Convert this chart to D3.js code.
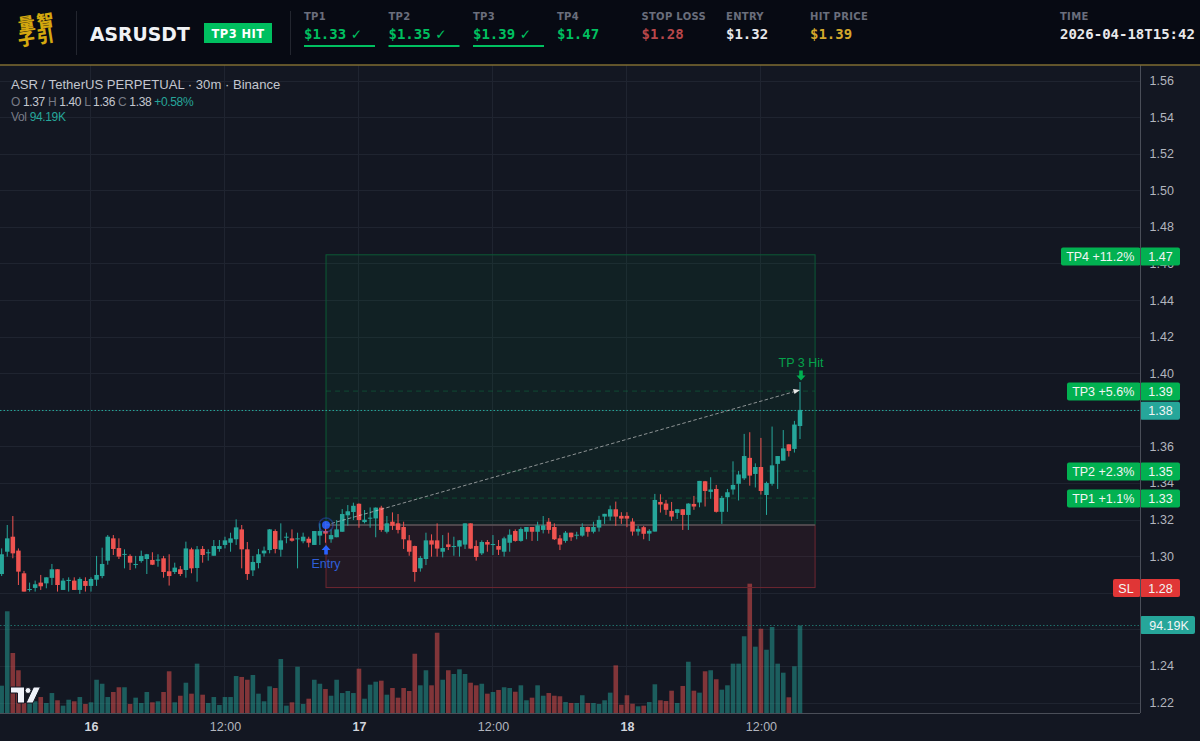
<!DOCTYPE html>
<html><head><meta charset="utf-8">
<style>html,body{margin:0;padding:0;background:#131722;overflow:hidden}svg{display:block}</style>
<script src="https://cdn.jsdelivr.net/npm/d3@7"></script>
</head><body><svg id="c" width="1200" height="741"></svg>
<script>
const opens=[
1.2905,1.3027,1.3109,1.3033,1.2909,1.2820,1.2829,1.2858,1.2854,1.2884,
1.2931,1.2818,1.2867,1.2869,1.2818,1.2867,1.2840,1.2874,1.2894,1.2978,
1.3100,1.3047,1.3011,1.3004,1.2956,1.2976,1.2987,1.2982,1.2978,1.2991,
1.2920,1.2916,1.2931,1.2927,1.3040,1.2938,1.3042,1.3020,1.3005,1.3042,
1.3064,1.3076,1.3095,1.3149,1.3040,1.2925,1.2965,1.3018,1.3036,1.3140,
1.3038,1.3106,1.3100,1.3096,1.3084,1.3098,1.3064,1.3115,1.3140,1.3095,
1.3106,1.3136,1.3226,1.3244,1.3289,1.3189,1.3209,1.3209,1.3268,1.3136,
1.3191,1.3182,1.3162,1.3089,1.3058,1.2936,1.2987,1.3089,1.3089,1.3027,
1.3067,1.3055,1.3055,1.3066,1.3182,1.3058,1.3018,1.3080,1.3066,1.3058,
1.3027,1.3076,1.3140,1.3086,1.3136,1.3162,1.3136,1.3146,1.3191,1.3162,
1.3100,1.3086,1.3131,1.3115,1.3115,1.3162,1.3136,1.3159,1.3219,1.3219,
1.3259,1.3223,1.3223,1.3192,1.3137,1.3161,1.3126,1.3137,1.3299,1.3290,
1.3250,1.3239,1.3259,1.3228,1.3288,1.3296,1.3412,1.3354,1.3370,1.3245,
1.3325,1.3367,1.3398,1.3428,1.3540,1.3452,1.3490,1.3337,1.3398,1.3507,
1.3525,1.3614,1.3589,1.3714];
const highs=[
1.3045,1.3173,1.3222,1.3045,1.2922,1.2858,1.2869,1.2900,1.2887,1.2960,
1.2931,1.2882,1.2887,1.2887,1.2887,1.2887,1.2887,1.3004,1.3049,1.3118,
1.3118,1.3100,1.3040,1.3013,1.3004,1.3033,1.3015,1.3024,1.3013,1.3004,
1.3013,1.2967,1.2949,1.3082,1.3049,1.3058,1.3058,1.3040,1.3091,1.3091,
1.3109,1.3131,1.3204,1.3173,1.3080,1.3004,1.3042,1.3055,1.3151,1.3149,
1.3182,1.3131,1.3149,1.3131,1.3131,1.3109,1.3140,1.3182,1.3191,1.3149,
1.3200,1.3260,1.3282,1.3295,1.3291,1.3255,1.3269,1.3269,1.3278,1.3222,
1.3242,1.3233,1.3191,1.3118,1.3060,1.3004,1.3131,1.3122,1.3182,1.3118,
1.3131,1.3109,1.3091,1.3182,1.3182,1.3089,1.3089,1.3091,1.3118,1.3091,
1.3109,1.3149,1.3149,1.3160,1.3162,1.3162,1.3191,1.3222,1.3211,1.3182,
1.3118,1.3140,1.3131,1.3136,1.3182,1.3164,1.3191,1.3223,1.3234,1.3279,
1.3301,1.3243,1.3243,1.3210,1.3168,1.3168,1.3150,1.3343,1.3341,1.3310,
1.3299,1.3259,1.3259,1.3292,1.3332,1.3414,1.3414,1.3434,1.3392,1.3332,
1.3370,1.3521,1.3469,1.3671,1.3680,1.3510,1.3649,1.3410,1.3711,1.3550,
1.3692,1.3614,1.3742,1.3955];
const lows=[
1.2894,1.3000,1.2991,1.2845,1.2809,1.2809,1.2809,1.2818,1.2827,1.2845,
1.2809,1.2818,1.2809,1.2818,1.2796,1.2809,1.2809,1.2840,1.2882,1.2956,
1.3009,1.2987,1.2936,1.2927,1.2936,1.2967,1.2905,1.2954,1.2945,1.2885,
1.2842,1.2905,1.2894,1.2885,1.2909,1.2863,1.2967,1.2978,1.3005,1.3027,
1.3045,1.3027,1.3064,1.2936,1.2873,1.2894,1.2936,1.3000,1.3018,1.3018,
1.3000,1.3073,1.3082,1.2936,1.3073,1.3051,1.3064,1.3064,1.3076,1.3076,
1.3106,1.3136,1.3169,1.3200,1.3158,1.3182,1.3158,1.3106,1.3136,1.3127,
1.3146,1.3127,1.3042,1.3005,1.2863,1.2918,1.2954,1.3000,1.3000,1.2996,
1.3036,1.3005,1.3000,1.3042,1.3042,1.2978,1.3009,1.3027,1.3009,1.3009,
1.3000,1.3027,1.3082,1.3082,1.3095,1.3086,1.3086,1.3127,1.3126,1.3091,
1.3036,1.3076,1.3086,1.3095,1.3109,1.3109,1.3127,1.3137,1.3179,1.3197,
1.3168,1.3179,1.3161,1.3115,1.3115,1.3095,1.3086,1.3137,1.3241,1.3228,
1.3197,1.3206,1.3146,1.3146,1.3256,1.3270,1.3274,1.3316,1.3241,1.3179,
1.3245,1.3339,1.3307,1.3419,1.3388,1.3378,1.3339,1.3228,1.3388,1.3370,
1.3525,1.3547,1.3569,1.3643];
const closes=[
1.3013,1.3100,1.3018,1.2918,1.2809,1.2823,1.2849,1.2838,1.2887,1.2931,
1.2845,1.2869,1.2873,1.2818,1.2878,1.2840,1.2878,1.2900,1.2960,1.3109,
1.3042,1.3000,1.3015,1.2967,1.2960,1.3004,1.3013,1.2956,1.2984,1.2916,
1.2894,1.2940,1.2905,1.3045,1.2936,1.3040,1.3009,1.3024,1.3058,1.3058,
1.3089,1.3100,1.3160,1.3040,1.2905,1.2971,1.3013,1.3033,1.3149,1.3042,
1.3089,1.3109,1.3087,1.3100,1.3109,1.3076,1.3140,1.3140,1.3126,1.3118,
1.3149,1.3233,1.3248,1.3278,1.3200,1.3202,1.3213,1.3268,1.3146,1.3182,
1.3169,1.3146,1.3095,1.3027,1.2916,1.2993,1.3089,1.3066,1.3044,1.3047,
1.3053,1.3058,1.3089,1.3182,1.3044,1.2998,1.3080,1.3066,1.3069,1.3038,
1.3100,1.3120,1.3086,1.3151,1.3162,1.3136,1.3171,1.3171,1.3146,1.3095,
1.3066,1.3131,1.3106,1.3120,1.3162,1.3136,1.3162,1.3201,1.3234,1.3259,
1.3219,1.3208,1.3208,1.3137,1.3152,1.3125,1.3141,1.3310,1.3285,1.3256,
1.3219,1.3259,1.3228,1.3290,1.3274,1.3414,1.3359,1.3367,1.3245,1.3321,
1.3352,1.3392,1.3449,1.3550,1.3443,1.3490,1.3359,1.3403,1.3499,1.3550,
1.3592,1.3578,1.3722,1.3802];
const volumes=[
29.4,109.5,64.6,46.0,10.8,12.6,12.6,17.2,10.8,21.5,
13.7,7.9,14.3,12.6,17.2,9.7,11.5,35.8,31.5,17.2,
22.6,27.7,27.7,9.7,16.5,10.8,22.6,11.5,12.6,22.6,
44.9,11.5,18.6,32.6,20.8,53.1,19.7,10.8,17.2,8.6,
17.2,17.2,39.8,38.8,35.8,40.9,20.8,12.6,28.7,26.9,
58.1,7.9,11.5,49.8,9.7,15.4,35.8,31.5,25.8,18.6,
35.8,21.5,23.7,21.5,47.7,15.4,30.5,33.7,34.8,19.7,
26.9,16.5,26.9,23.7,63.8,29.8,46.0,29.8,86.4,35.8,
46.0,42.0,47.0,42.0,32.6,29.8,31.5,20.8,22.6,24.8,
27.7,26.9,22.9,29.8,13.7,16.5,29.8,18.6,21.5,18.6,
18.0,11.8,10.8,10.8,19.1,10.8,10.8,9.7,13.7,21.9,
51.3,8.9,19.1,10.0,7.2,7.9,11.8,30.9,13.7,12.9,
24.0,10.8,29.1,55.2,24.0,21.9,44.9,46.0,36.3,25.1,
29.8,53.1,53.1,82.6,139.2,71.4,90.7,68.1,92.6,53.1,
43.4,16.9,50.3,94.19];

const priceTicks=[1.56,1.54,1.52,1.50,1.48,1.46,1.44,1.42,1.40,1.38,1.36,1.34,1.32,1.30,1.28,1.26,1.24,1.22];
const timeTickBars=[16,40,64,88,112,136];
const timeTickLabels=["16","12:00","17","12:00","18","12:00"];
const boldTimeLabels=["16","17","18"];

const headerLabels=["TP1","TP2","TP3","TP4","STOP LOSS","ENTRY","HIT PRICE","TIME"];
const headerValues=["$1.33","$1.35","$1.39","$1.47","$1.28","$1.32","$1.39","2026-04-18T15:42"];
const headerColors=["#00c060","#00c060","#00c060","#00c060","#b8474a","#e8e8ea","#d4a72c","#e8e8ea"];
const headerHit=[true,true,true,false,false,false,false,false];
const headerX=[304,388.5,473,557,641.5,726,810,1060];

const entryPrice=1.3173, stopPrice=1.2831, tp4Price=1.4650;
const tpLinePrices=[1.3320,1.3468,1.3905];
const lastPrice=1.3799, lastVolume=94.19, hitPrice=1.3955;
const boxStartBar=58.1, boxEndBar=145.7, lastBar=143;
const tagLabels=["TP4 +11.2%","TP3 +5.6%","TP2 +2.3%","TP1 +1.1%"];
const tagValues=["1.47","1.39","1.35","1.33"];
const tagPrices=[1.4643,1.3905,1.3468,1.3320];

const W=1200,H=741,headerH=65,axisX=1140,axisY=713;
const x=d3.scaleLinear().domain([0,143]).range([1.67,800.0]);
const y=d3.scaleLinear().domain([1.22,1.56]).range([703,81]);
const yv=d3.scaleLinear().domain([0,lastVolume]).range([axisY,625.5]);
const SANS='"Liberation Sans",Arial,sans-serif', DJ='"DejaVu Sans",sans-serif', MONO='"DejaVu Sans Mono",monospace';
const UP='#26a69a',DOWN='#ef5350',GREEN='#02b151';
const svg=d3.select('#c');
const bars=d3.range(opens.length);

svg.append('rect').attr('width',W).attr('height',H).attr('fill','#131722');

// grid
const grid=svg.append('g').attr('stroke','#1f2430').attr('stroke-width',1).attr('shape-rendering','crispEdges');
grid.selectAll('.h').data(priceTicks).join('line').attr('x1',0).attr('x2',axisX).attr('y1',d=>y(d)).attr('y2',d=>y(d));
grid.selectAll('.v').data(timeTickBars).join('line').attr('y1',headerH).attr('y2',axisY).attr('x1',d=>x(d)).attr('x2',d=>x(d));

// volume
svg.append('g').selectAll('rect').data(bars).join('rect')
 .attr('x',i=>x(i)-2.3).attr('width',4.6)
 .attr('y',i=>yv(volumes[i])).attr('height',i=>axisY-yv(volumes[i]))
 .attr('fill',i=>closes[i]>=opens[i]?UP:DOWN).attr('fill-opacity',0.5);

// risk / reward boxes
const bx=x(boxStartBar),bw=x(boxEndBar)-x(boxStartBar);
svg.append('rect').attr('x',bx).attr('y',y(tp4Price)).attr('width',bw).attr('height',y(entryPrice)-y(tp4Price))
 .attr('fill','#00b050').attr('fill-opacity',0.065).attr('stroke','#0c5a36').attr('stroke-width',1);
svg.append('rect').attr('x',bx).attr('y',y(entryPrice)).attr('width',bw).attr('height',y(stopPrice)-y(entryPrice))
 .attr('fill','#f23645').attr('fill-opacity',0.07).attr('stroke','#6f2731').attr('stroke-width',1);
svg.selectAll('.tpl').data(tpLinePrices).join('line').attr('x1',bx).attr('x2',bx+bw)
 .attr('y1',d=>y(d)).attr('y2',d=>y(d)).attr('stroke','#0f7a45').attr('stroke-opacity',.45).attr('stroke-dasharray','5 4');
svg.append('line').attr('x1',bx).attr('x2',bx+bw).attr('y1',y(entryPrice)).attr('y2',y(entryPrice)).attr('stroke','#5a5f6b').attr('stroke-width',1.2);

// candles
const cg=svg.append('g');
cg.selectAll('.w').data(bars).join('line')
 .attr('x1',i=>x(i)).attr('x2',i=>x(i)).attr('y1',i=>y(highs[i])).attr('y2',i=>y(lows[i]))
 .attr('stroke',i=>closes[i]>=opens[i]?UP:DOWN).attr('stroke-width',1);
cg.selectAll('.b').data(bars).join('rect')
 .attr('x',i=>x(i)-2.25).attr('width',4.5)
 .attr('y',i=>y(Math.max(opens[i],closes[i])))
 .attr('height',i=>Math.max(1,Math.abs(y(opens[i])-y(closes[i]))))
 .attr('fill',i=>closes[i]>=opens[i]?UP:DOWN);

// last price & volume lines
svg.append('line').attr('x1',0).attr('x2',axisX).attr('y1',y(lastPrice)).attr('y2',y(lastPrice))
 .attr('stroke',UP).attr('stroke-dasharray','1.5 2').attr('stroke-width',1);
svg.append('line').attr('x1',0).attr('x2',axisX).attr('y1',yv(lastVolume)).attr('y2',yv(lastVolume))
 .attr('stroke','#1f6f69').attr('stroke-dasharray','1.5 2').attr('stroke-width',1);

// trade path
const ex=x(boxStartBar),ey=y(entryPrice),hx=x(lastBar),hy=y(hitPrice)+8;
svg.append('line').attr('x1',ex).attr('y1',ey).attr('x2',hx-5).attr('y2',hy+1.5)
 .attr('stroke','#d8d8d8').attr('stroke-opacity',.62).attr('stroke-width',1).attr('stroke-dasharray','3.5 2.2');
svg.append('path').attr('d',`M${hx},${hy} L${hx-7},${hy-1} L${hx-5.5},${hy+4} Z`).attr('fill','#e8e8e8');

// entry marker
svg.append('circle').attr('cx',ex).attr('cy',ey).attr('r',7).attr('fill','none').attr('stroke','#2962ff').attr('stroke-opacity',.35).attr('stroke-width',1.5);
svg.append('circle').attr('cx',ex).attr('cy',ey).attr('r',4).attr('fill','#2962ff').attr('fill-opacity',.9);
const ay=ey+20;
svg.append('path').attr('d',`M${ex},${ay} l4.5,5 h-2.7 v4.5 h-3.6 v-4.5 h-2.7 Z`).attr('fill','#2962ff');
svg.append('text').attr('x',ex).attr('y',ey+43).attr('text-anchor','middle').attr('fill','#2f5fd8').attr('font-family',SANS).attr('font-size',12.5).text('Entry');

// hit marker
svg.append('text').attr('x',hx+1).attr('y',367).attr('text-anchor','middle').attr('fill','#05a34b').attr('font-family',SANS).attr('font-size',12.5).text('TP 3 Hit');
svg.append('path').attr('d',`M${hx+1},380.5 l-4.5,-5 h2.7 v-5 h3.6 v5 h2.7 Z`).attr('fill','#00b050');

// legend
const lg=svg.append('g').attr('font-family',SANS);
lg.append('text').attr('x',11).attr('y',89).attr('fill','#c4c7cf').attr('font-size',13.1).text('ASR / TetherUS PERPETUAL · 30m · Binance');
const ohlc=lg.append('text').attr('x',11).attr('y',106).attr('font-size',12).attr('letter-spacing',-0.35);
[['O ','#787b86'],['1.37 ','#c4c7cf'],['H ','#787b86'],['1.40 ','#c4c7cf'],['L ','#787b86'],['1.36 ','#c4c7cf'],['C ','#787b86'],['1.38 ','#c4c7cf'],['+0.58%','#26a69a']]
 .forEach(d=>ohlc.append('tspan').attr('fill',d[1]).style('white-space','pre').text(d[0]));
const vl=lg.append('text').attr('x',11).attr('y',121).attr('font-size',12).attr('letter-spacing',-0.35);
vl.append('tspan').attr('fill','#787b86').text('Vol ');
vl.append('tspan').attr('fill','#26a69a').text('94.19K');

// TradingView logo
const logo=svg.append('g').attr('fill','#f0f3fa').attr('stroke','#131722').attr('stroke-width',1);
logo.append('path').attr('d','M10.5,687 H24.5 V703 H17.5 V693 H10.5 Z');
logo.append('circle').attr('cx',28).attr('cy',690.5).attr('r',3);
logo.append('path').attr('d','M33.5,687 H40.5 L33,703 H26 Z');

const yAxis=d3.axisRight(y).tickValues(priceTicks).tickFormat(d3.format('.2f')).tickSize(0).tickPadding(0);
const yg=svg.append('g').attr('transform',`translate(1149.5,-0.5)`).call(yAxis);
yg.select('.domain').remove();
yg.selectAll('text').attr('fill','#b2b5be').attr('font-family',SANS).attr('font-size',12.5);

const xAxis=d3.axisBottom(x).tickValues(timeTickBars).tickFormat((d,i)=>timeTickLabels[i]).tickSize(0).tickPadding(0);
const xg=svg.append('g').attr('transform',`translate(0,722)`).call(xAxis);
xg.select('.domain').remove();
xg.selectAll('text').attr('font-family',SANS).attr('font-size',12.5)
 .attr('fill',(d,i)=>boldTimeLabels.includes(timeTickLabels[i])?'#d1d4dc':'#b2b5be')
 .attr('font-weight',(d,i)=>boldTimeLabels.includes(timeTickLabels[i])?'bold':'normal');

// tags
function tag(x0,x1,cy,fill,txt,tx,anchor){
 svg.append('rect').attr('x',x0).attr('y',cy-9).attr('width',x1-x0).attr('height',18).attr('rx',2).attr('fill',fill);
 svg.append('text').attr('x',tx).attr('y',cy+4.5).attr('text-anchor',anchor).attr('fill','#f2f5f5').attr('font-family',SANS).attr('font-size',12.5).text(txt);
}
const tagLeft=[1061,1067,1067,1067];
tagLabels.forEach((t,i)=>{
 const cy=y(tagPrices[i])+.5;
 tag(tagLeft[i],1140.5,cy,GREEN,t,(tagLeft[i]+1139.5)/2,'middle');
 tag(1140,1180,cy,GREEN,tagValues[i],1160.5,'middle');
});
tag(1113,1140.5,588,'#e03636','SL',1126,'middle');
tag(1140,1180,588,'#e03636','1.28',1160.5,'middle');
tag(1140,1180,410.7,'#26a69a','1.38',1160.5,'middle');
tag(1140,1195,625,'#26a69a','94.19K',1169,'middle');

// axis borders above the tags
svg.append('line').attr('x1',axisX+.5).attr('x2',axisX+.5).attr('y1',headerH).attr('y2',axisY).attr('stroke','#4a4e58');
svg.append('line').attr('x1',0).attr('x2',axisX).attr('y1',axisY+.5).attr('y2',axisY+.5).attr('stroke','#4a4e58');

// header
const hd=svg.append('g');
hd.append('rect').attr('width',W).attr('height',headerH).attr('fill','#070a13');
hd.append('line').attr('x1',0).attr('x2',W).attr('y1',65).attr('y2',65).attr('stroke','#7f6d32').attr('stroke-width',1.5);
hd.selectAll('.d').data([76.5,290.5]).join('line').attr('x1',d=>d).attr('x2',d=>d).attr('y1',11).attr('y2',55).attr('stroke','#23262f');
const cn=hd.append('g').attr('font-family','"Noto Sans CJK SC"').attr('font-weight',900).attr('fill','#d4a80f').attr('font-size',17).attr('letter-spacing',2);
cn.append('text').attr('transform','translate(19,31) rotate(-9)').text('量智');
cn.append('text').attr('transform','translate(19,46.5) rotate(-9)').text('子引');
hd.append('text').attr('x',90).attr('y',40.7).attr('font-family',DJ).attr('font-weight','bold').attr('font-size',18.8).attr('fill','#f0f2f5').text('ASRUSDT');
hd.append('rect').attr('x',204).attr('y',23).attr('width',68).attr('height',20).attr('fill','#00c060');
hd.append('text').attr('x',238).attr('y',38).attr('text-anchor','middle').attr('font-family',DJ).attr('font-weight','bold').attr('font-size',11.5).attr('letter-spacing',.4).attr('fill','#ffffff').text('TP3 HIT');
headerLabels.forEach((t,i)=>{
 hd.append('text').attr('x',headerX[i]).attr('y',20).attr('font-family',DJ).attr('font-weight','bold').attr('font-size',10).attr('letter-spacing',.3).attr('fill','#6a6e7c').text(t);
 const v=hd.append('text').attr('x',headerX[i]).attr('y',39).attr('font-family',MONO).attr('font-weight','bold').attr('font-size',14).attr('fill',headerColors[i]).text(headerValues[i]);
 if(headerHit[i]){
  v.append('tspan').attr('dx',4.5).attr('font-size',13.5).attr('font-family',DJ).attr('font-weight','normal').text('✓');
  hd.append('rect').attr('x',headerX[i]).attr('y',45).attr('width',71).attr('height',2).attr('fill','#00c060');
 }
});
</script></body></html>
